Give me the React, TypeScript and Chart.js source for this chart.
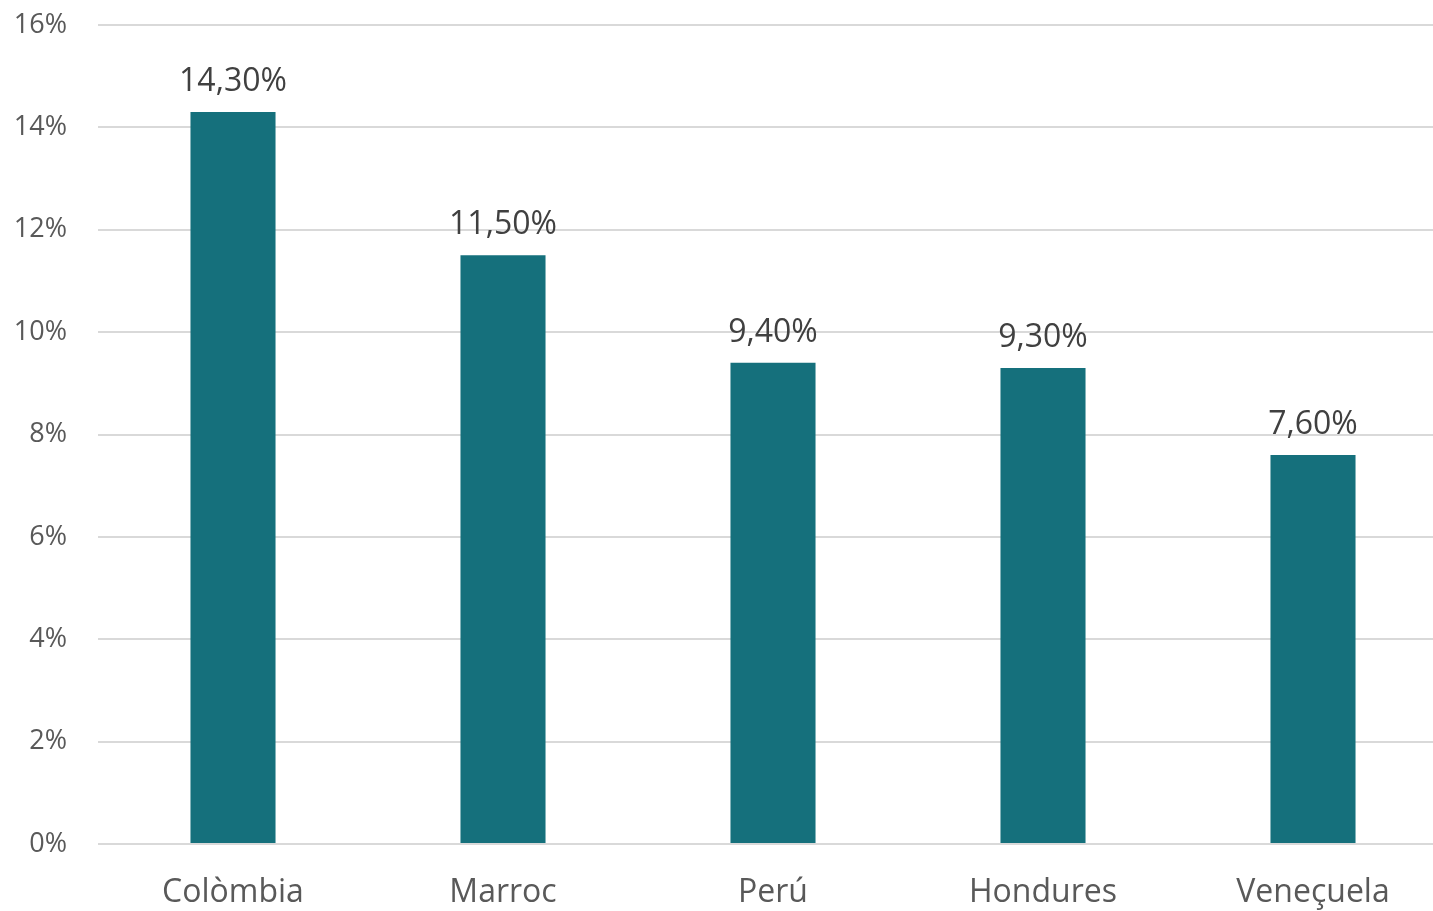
import React, { useEffect, useRef } from "react";
import { Chart, registerables } from "chart.js";

Chart.register(...registerables);

const categories = ["Colòmbia", "Marroc", "Perú", "Hondures", "Veneçuela"];
const values = [14.3, 11.5, 9.4, 9.3, 7.6];
const valueLabels = ["14,30%", "11,50%", "9,40%", "9,30%", "7,60%"];
const yTicks = [0, 2, 4, 6, 8, 10, 12, 14, 16];

const FONT = "'Open Sans', 'Noto Sans', sans-serif";

const dataLabelPlugin = {
  id: "dataLabels",
  afterDatasetsDraw(chart: any) {
    const ctx = chart.ctx;
    const meta = chart.getDatasetMeta(0);
    ctx.save();
    ctx.font = `32px ${FONT}`;
    ctx.fillStyle = "#404040";
    ctx.textAlign = "center";
    ctx.textBaseline = "alphabetic";
    meta.data.forEach((bar: any, i: number) => {
      ctx.fillText(valueLabels[i], bar.x, bar.y - 21);
    });
    ctx.restore();
  },
};

export default function App() {
  const ref = useRef<HTMLCanvasElement | null>(null);
  useEffect(() => {
    if (!ref.current) return;
    const chart = new Chart(ref.current, {
      type: "bar",
      data: {
        labels: categories,
        datasets: [
          {
            data: values,
            backgroundColor: "#15707C",
            borderWidth: 0,
            categoryPercentage: 1,
            barPercentage: 0.315,
          },
        ],
      },
      options: {
        responsive: false,
        animation: false,
        devicePixelRatio: 1,
        layout: { padding: { top: 25, left: 0, right: 0, bottom: 0 } },
        plugins: { legend: { display: false }, tooltip: { enabled: false } },
        scales: {
          x: {
            grid: { display: false, drawTicks: false },
            border: { display: false },
            ticks: {
              color: "#595959",
              font: { family: FONT, size: 32 },
              padding: 30,
              maxRotation: 0,
              autoSkip: false,
            },
            afterFit: (scale: any) => {
              scale.height = 67;
              scale.paddingLeft = 0;
              scale.paddingRight = 0;
            },
          },
          y: {
            min: 0,
            max: 16,
            afterBuildTicks: (scale: any) => {
              scale.ticks = yTicks.map((v) => ({ value: v }));
            },
            grid: { color: "#D9D9D9", lineWidth: 2, drawTicks: false },
            border: { display: false },
            ticks: {
              color: "#595959",
              font: { family: FONT, size: 27 },
              padding: 31,
              callback: (v: any) => `${v}%`,
            },
            afterFit: (scale: any) => {
              scale.width = 98;
              scale.paddingTop = 0;
              scale.paddingBottom = 0;
            },
          },
        },
      },
      plugins: [dataLabelPlugin],
    });
    return () => chart.destroy();
  }, []);
  return (
    <div
      style={{
        position: "fixed",
        left: 0,
        top: 0,
        width: 1433,
        height: 911,
        overflow: "hidden",
        background: "#fff",
      }}
    >
      <canvas ref={ref} width={1448} height={911} style={{ display: "block" }} />
    </div>
  );
}
